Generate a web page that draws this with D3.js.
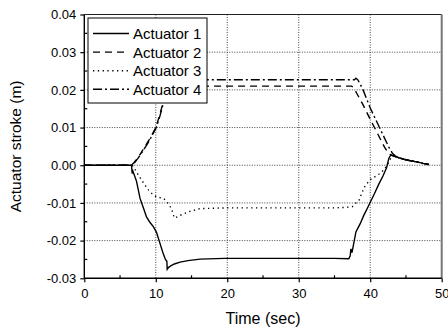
<!DOCTYPE html>
<html><head><meta charset="utf-8">
<script src="https://cdn.jsdelivr.net/npm/d3@7"></script>
<style>body{margin:0;background:#fff} svg{display:block} text{font-family:"Liberation Sans",Arial,sans-serif;fill:#000}</style>
</head><body><svg id="c" width="448" height="331"></svg>
<script>
const xTicks=[0,10,20,30,40,50];
const xTickLabels=["0","10","20","30","40","50"];
const xMinor=[5,15,25,35,45];
const yTicks=[-0.03,-0.02,-0.01,0,0.01,0.02,0.03,0.04];
const yTickLabels=["-0.03","-0.02","-0.01","0.00","0.01","0.02","0.03","0.04"];
const yMinor=[-0.025,-0.015,-0.005,0.005,0.015,0.025,0.035];
const seriesNames=["Actuator 1","Actuator 2","Actuator 3","Actuator 4"];

const t1=[0,6.6,6.7,6.8,7.3,7.8,8.3,8.7,9.2,9.7,10.1,10.6,11.0,11.35,11.55,11.6,11.8,12.1,12.6,13.4,14.5,16.2,19.6,25,30,35,37.0,37.2,37.3,37.45,38.0,38.6,39.1,39.6,40.0,40.6,41.2,41.8,42.3,42.6,42.9,43.3,44.0,44.7,45.6,46.5,47.4,48.2];
const v1=[0,0,-0.0022,-0.0016,-0.0042,-0.0088,-0.0115,-0.0137,-0.0152,-0.0164,-0.0178,-0.0208,-0.0232,-0.0250,-0.0255,-0.0276,-0.0271,-0.0267,-0.0262,-0.0257,-0.0253,-0.0249,-0.0247,-0.0247,-0.0247,-0.0247,-0.0248,-0.0240,-0.0222,-0.0232,-0.0177,-0.0155,-0.0133,-0.0114,-0.0098,-0.0075,-0.0050,-0.0028,-0.0006,0.0018,0.0028,0.0024,0.0020,0.0016,0.0012,0.0009,0.0005,0.0002];

const t2=[0,6.6,7.0,7.5,8.0,8.5,9.0,9.5,10.0,10.5,11.0,11.5,11.8,12.2,15,20,25,30,35,37.4,37.6,38.0,39.0,40.0,41.0,42.0,42.5,42.9,43.3,44.0,44.7,45.6,46.5,47.4,48.2];
const v2=[0,0,0.0008,0.002,0.0035,0.005,0.0065,0.0082,0.0100,0.0130,0.0165,0.0195,0.0206,0.0210,0.0210,0.0210,0.0210,0.0210,0.0210,0.0210,0.0207,0.0195,0.0160,0.0122,0.0085,0.0048,0.0033,0.0027,0.0024,0.0020,0.0016,0.0012,0.0009,0.0005,0.0002];

const t3=[0,6.7,7.0,7.3,7.8,8.5,9.0,9.5,10.1,10.6,11.1,11.6,12.2,12.6,13.0,13.4,14.5,16.2,20,25,30,35,36.5,37.5,38.0,38.4,38.8,39.2,39.7,40.2,40.9,41.5,42.0,42.5,42.9,43.3,44.0,44.7,45.6,46.5,47.4,48.2];
const v3=[0,0,-0.0008,-0.0018,-0.0033,-0.0053,-0.0066,-0.0076,-0.0084,-0.0086,-0.0088,-0.0098,-0.0115,-0.0140,-0.0137,-0.0133,-0.0124,-0.0115,-0.0113,-0.0113,-0.0113,-0.0113,-0.0112,-0.0110,-0.0100,-0.0095,-0.0075,-0.0058,-0.0045,-0.0035,-0.0028,-0.0020,-0.0010,0.0005,0.0020,0.0024,0.0020,0.0016,0.0012,0.0009,0.0005,0.0002];

const t4=[0,6.7,7.0,7.5,8.0,8.5,9.0,9.5,10.0,10.5,11.0,11.5,12.0,12.4,12.8,15,20,25,30,35,37.8,38.0,38.3,39.0,40.0,41.0,42.0,42.6,43.1,43.5,44.0,44.7,45.6,46.5,47.4,48.2];
const v4=[0,0,0.0006,0.0018,0.0032,0.0047,0.0062,0.008,0.0097,0.0125,0.016,0.0192,0.0215,0.0225,0.0227,0.0227,0.0227,0.0227,0.0227,0.0227,0.0227,0.0231,0.0226,0.0200,0.0152,0.0112,0.0072,0.0048,0.0032,0.0025,0.0020,0.0016,0.0012,0.0009,0.0005,0.0002];

const series=[
  {name:seriesNames[0],t:t1,v:v1,dash:null},
  {name:seriesNames[1],t:t2,v:v2,dash:"7,5"},
  {name:seriesNames[2],t:t3,v:v3,dash:"1.3,3.5"},
  {name:seriesNames[3],t:t4,v:v4,dash:"9,3,2,3"}
];

const L=84.3,R=441.7,T=14.5,B=278.3;
const x=d3.scaleLinear().domain([0,50]).range([L,R]);
const y=d3.scaleLinear().domain([-0.03,0.04]).range([B,T]);
const svg=d3.select("#c");

svg.append("defs").append("clipPath").attr("id","clip").append("rect")
  .attr("x",L).attr("y",T).attr("width",R-L).attr("height",B-T);

// grid
const g=svg.append("g");
g.selectAll(".vg").data(xTicks.slice(1,-1)).join("line")
  .attr("x1",d=>x(d)).attr("x2",d=>x(d)).attr("y1",T).attr("y2",B)
  .attr("stroke","#444").attr("stroke-width",1).attr("stroke-dasharray","1,1.5");
g.selectAll(".hg").data(yTicks.slice(1,-1)).join("line")
  .attr("y1",d=>y(d)).attr("y2",d=>y(d)).attr("x1",L).attr("x2",R)
  .attr("stroke","#444").attr("stroke-width",1).attr("stroke-dasharray","1,1.5");

// lines
const line=d3.line().x(d=>x(d[0])).y(d=>y(d[1]));
const lg=svg.append("g").attr("clip-path","url(#clip)");
series.forEach(s=>{
  lg.append("path").datum(s.t.map((t,i)=>[t,s.v[i]]))
    .attr("d",line).attr("fill","none").attr("stroke","#000")
    .attr("stroke-width",s.dash==="1.3,3.5"?1.4:1.4)
    .attr("stroke-dasharray",s.dash);
});

// frame top/right
svg.append("line").attr("x1",L).attr("x2",R).attr("y1",T).attr("y2",T).attr("stroke","#222").attr("stroke-width",1);
svg.append("line").attr("x1",R).attr("x2",R).attr("y1",T).attr("y2",B).attr("stroke","#777").attr("stroke-width",2);

// axes
const xAxis=d3.axisBottom(x).tickValues(xTicks).tickSize(4).tickPadding(6).tickFormat((d,i)=>xTickLabels[i]);
const xa=svg.append("g").attr("transform",`translate(0,${B})`).call(xAxis);
const yAxis=d3.axisLeft(y).tickValues(yTicks).tickSize(4).tickPadding(4).tickFormat((d,i)=>yTickLabels[i]);
const ya=svg.append("g").attr("transform",`translate(${L},0)`).call(yAxis);
[xa,ya].forEach(a=>{
  a.select(".domain").attr("stroke","#000").attr("stroke-width",1.4);
  a.selectAll(".tick line").attr("stroke","#000").attr("stroke-width",1.2);
  a.selectAll("text").attr("font-size",13).attr("font-family",'"Liberation Sans",Arial,sans-serif');
});
xa.select(".domain").attr("d",`M${L},0H${R}`);
ya.select(".domain").attr("d",`M0,${B}V${T}`);
// minor ticks inward
svg.append("g").selectAll("line").data(xMinor).join("line")
  .attr("x1",d=>x(d)).attr("x2",d=>x(d)).attr("y1",B).attr("y2",B-3)
  .attr("stroke","#000").attr("stroke-width",1.2);
svg.append("g").selectAll("line").data(yMinor).join("line")
  .attr("y1",d=>y(d)).attr("y2",d=>y(d)).attr("x1",L).attr("x2",L+3)
  .attr("stroke","#000").attr("stroke-width",1.2);

// legend
const leg=svg.append("g");
leg.append("rect").attr("x",88).attr("y",18).attr("width",119).attr("height",85)
  .attr("fill","#fff").attr("stroke","#000").attr("stroke-width",1);
series.forEach((s,i)=>{
  const cy=33.5+i*18.6;
  leg.append("line").attr("x1",93).attr("x2",129).attr("y1",cy).attr("y2",cy)
    .attr("stroke","#000").attr("stroke-width",1.4).attr("stroke-dasharray",s.dash);
  leg.append("text").attr("x",133).attr("y",cy+5.4).attr("font-size",15).text(s.name);
});

// titles
svg.append("text").attr("x",(L+R)/2).attr("y",324).attr("text-anchor","middle").attr("font-size",16).text("Time (sec)");
svg.append("text").attr("transform",`translate(21,${(T+B)/2}) rotate(-90)`).attr("text-anchor","middle").attr("font-size",15.5).text("Actuator stroke (m)");
</script></body></html>
